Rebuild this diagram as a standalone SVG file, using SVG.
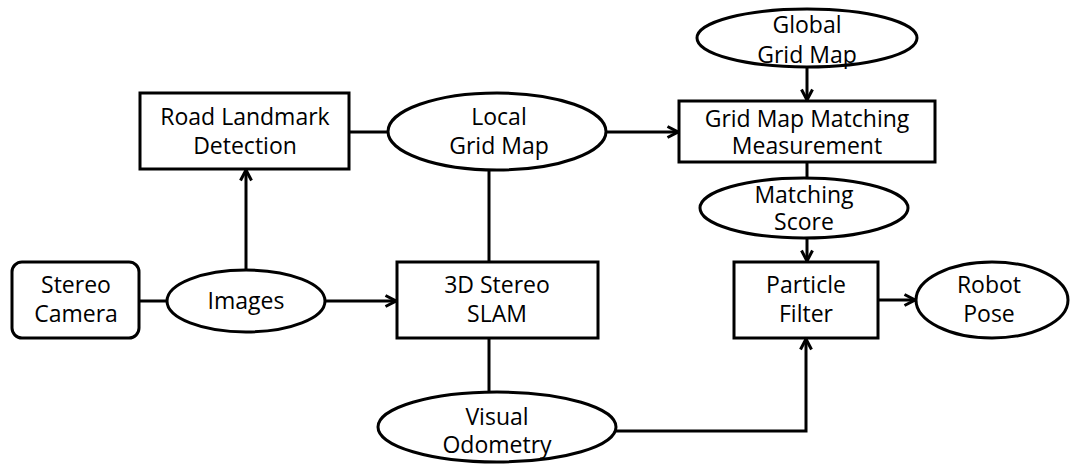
<svg xmlns="http://www.w3.org/2000/svg" width="1074" height="466" viewBox="0 0 1074 466">
<style>
.s{fill:#fff;stroke:#000;stroke-width:3}
.t{font-family:"Open Sans","Liberation Sans",sans-serif;font-size:23px;fill:#000;text-anchor:middle}
.c{fill:none;stroke:#000;stroke-width:3}
</style>
<defs>
<marker id="a" viewBox="0 0 14 14" refX="12.5" refY="7" markerWidth="14" markerHeight="14" markerUnits="userSpaceOnUse" orient="auto">
<path d="M2,1.5 L12.5,7 L2,12.5" fill="none" stroke="#000" stroke-width="3"/>
</marker>
</defs>
<g id="connectors">
<line class="c" x1="139" y1="301" x2="167" y2="301"/>
<line class="c" x1="325" y1="301" x2="396" y2="301" marker-end="url(#a)"/>
<line class="c" x1="246" y1="270" x2="246" y2="170" marker-end="url(#a)"/>
<line class="c" x1="349" y1="132" x2="388" y2="132"/>
<line class="c" x1="606" y1="132" x2="678" y2="132" marker-end="url(#a)"/>
<line class="c" x1="489" y1="170" x2="489" y2="262"/>
<line class="c" x1="489" y1="338" x2="489" y2="393"/>
<line class="c" x1="807" y1="67" x2="807" y2="100" marker-end="url(#a)"/>
<line class="c" x1="807" y1="162" x2="807" y2="179"/>
<line class="c" x1="807" y1="238" x2="807" y2="261" marker-end="url(#a)"/>
<line class="c" x1="878" y1="300" x2="915" y2="300" marker-end="url(#a)"/>
<polyline class="c" points="616,431 806,431 806,339" marker-end="url(#a)"/>
</g>
<g id="stereo-camera">
<rect class="s" x="12" y="262" width="127" height="76" rx="10"/>
<text class="t" x="76" y="293">Stereo</text>
<text class="t" x="76" y="322">Camera</text>
</g>
<g id="images">
<ellipse class="s" cx="246" cy="301" rx="79" ry="31"/>
<text class="t" x="246" y="309">Images</text>
</g>
<g id="road-landmark-detection">
<rect class="s" x="140" y="93" width="209" height="76"/>
<text class="t" x="245" y="125">Road Landmark</text>
<text class="t" x="245" y="154">Detection</text>
</g>
<g id="local-grid-map">
<ellipse class="s" cx="497" cy="131.5" rx="109" ry="38.5"/>
<text class="t" x="499" y="125">Local</text>
<text class="t" x="499" y="154">Grid Map</text>
</g>
<g id="stereo-slam">
<rect class="s" x="397" y="262" width="201" height="76"/>
<text class="t" x="497" y="293">3D Stereo</text>
<text class="t" x="497" y="322">SLAM</text>
</g>
<g id="visual-odometry">
<ellipse class="s" cx="497" cy="427" rx="119" ry="35"/>
<text class="t" x="497" y="425">Visual</text>
<text class="t" x="497" y="453">Odometry</text>
</g>
<g id="global-grid-map">
<ellipse class="s" cx="807" cy="38" rx="110" ry="29"/>
<text class="t" x="807" y="33">Global</text>
<text class="t" x="807" y="63">Grid Map</text>
</g>
<g id="grid-map-matching">
<rect class="s" x="679" y="101" width="256" height="61"/>
<text class="t" x="807" y="127">Grid Map Matching</text>
<text class="t" x="807" y="154">Measurement</text>
</g>
<g id="matching-score">
<ellipse class="s" cx="804" cy="208" rx="104" ry="30"/>
<text class="t" x="804" y="203">Matching</text>
<text class="t" x="804" y="230">Score</text>
</g>
<g id="particle-filter">
<rect class="s" x="734" y="262" width="144" height="76"/>
<text class="t" x="806" y="293">Particle</text>
<text class="t" x="806" y="322">Filter</text>
</g>
<g id="robot-pose">
<ellipse class="s" cx="992" cy="300" rx="76" ry="38"/>
<text class="t" x="989" y="293">Robot</text>
<text class="t" x="989" y="322">Pose</text>
</g>
</svg>
